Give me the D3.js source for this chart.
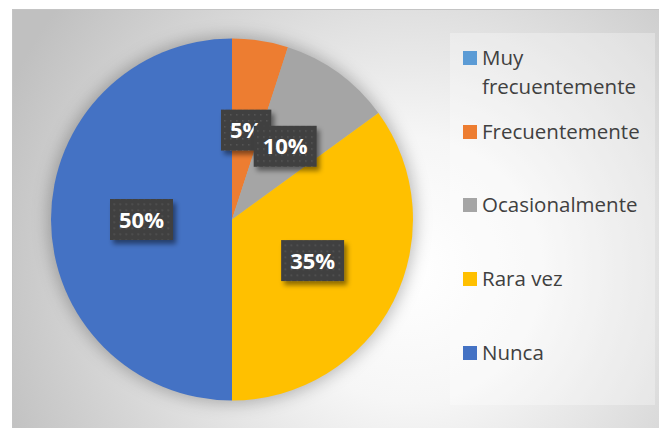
<!DOCTYPE html>
<html>
<head>
<meta charset="utf-8">
<script src="https://cdn.jsdelivr.net/npm/d3@7"></script>
<style>
  body { margin: 0; background: #fff; }
  svg { display: block; font-family: "Open Sans", sans-serif; }
</style>
</head>
<body>
<script>
// data
var categories = ["Muy frecuentemente", "Frecuentemente", "Ocasionalmente", "Rara vez", "Nunca"];
var values = [0, 5, 10, 35, 50];
var colors = ["#5B9BD5", "#ED7D31", "#A5A5A5", "#FFC000", "#4472C4"];

var width = 659, height = 428;
var cx = 232, cy = 219.5, radius = 181;

var svg = d3.select("body").append("svg")
  .attr("width", width)
  .attr("height", height);

var defs = svg.append("defs");

var bg = defs.append("radialGradient")
  .attr("id", "bg")
  .attr("gradientUnits", "userSpaceOnUse")
  .attr("cx", 410).attr("cy", 270).attr("r", 440);
bg.append("stop").attr("offset", "0").attr("stop-color", "#ffffff");
bg.append("stop").attr("offset", "0.3").attr("stop-color", "#f6f6f6");
bg.append("stop").attr("offset", "1").attr("stop-color", "#c0c0c0");

var blur = defs.append("filter").attr("id", "pieShadow")
  .attr("x", "-30%").attr("y", "-30%").attr("width", "160%").attr("height", "160%");
blur.append("feGaussianBlur").attr("stdDeviation", 8);

var drop = defs.append("filter").attr("id", "boxShadow")
  .attr("x", "-30%").attr("y", "-30%").attr("width", "160%").attr("height", "170%");
drop.append("feDropShadow")
  .attr("dx", 3).attr("dy", 4).attr("stdDeviation", 2.5)
  .attr("flood-color", "#000").attr("flood-opacity", 0.45);

var dots = defs.append("pattern").attr("id", "dots")
  .attr("patternUnits", "userSpaceOnUse")
  .attr("width", 6).attr("height", 6);
dots.append("rect").attr("width", 6).attr("height", 6).attr("fill", "#404040");
dots.append("rect").attr("x", 2).attr("y", 2).attr("width", 1.4).attr("height", 1.4).attr("fill", "#5c5c5c");

// chart area
svg.append("rect")
  .attr("x", 12.5).attr("y", 9.5)
  .attr("width", width).attr("height", height)
  .attr("fill", "url(#bg)")
  .attr("stroke", "#c4c4c4");

// legend box
var legendX = 450, legendY = 33;
svg.append("rect")
  .attr("x", legendX).attr("y", legendY)
  .attr("width", 205).attr("height", 372)
  .attr("fill", "#fff").attr("fill-opacity", 0.3);

// pie
var pie = d3.pie().sort(null).value(function(d) { return d; });
var arcs = pie(values);
var arc = d3.arc().innerRadius(0).outerRadius(radius);
var labelArc = d3.arc().innerRadius(radius * 0.5).outerRadius(radius * 0.5);

var g = svg.append("g").attr("transform", "translate(" + cx + "," + cy + ")");

g.append("circle")
  .attr("r", radius + 3)
  .attr("fill", "#000").attr("fill-opacity", 0.25)
  .attr("filter", "url(#pieShadow)");

g.selectAll("path.slice")
  .data(arcs)
  .enter().append("path")
  .attr("class", "slice")
  .attr("d", arc)
  .attr("fill", function(d, i) { return colors[i]; });

// data labels
var labels = g.selectAll("g.lbl")
  .data(arcs.filter(function(d) { return d.value > 0; }))
  .enter().append("g")
  .attr("class", "lbl")
  .attr("transform", function(d) { return "translate(" + labelArc.centroid(d) + ")"; });

labels.each(function(d) {
  var l = d3.select(this);
  var box = l.append("rect");
  var t = l.append("text")
    .attr("text-anchor", "middle")
    .attr("y", 8)
    .attr("fill", "#fff")
    .attr("font-weight", "bold")
    .attr("font-size", 22)
    .text(d.value + "%");
  var w = t.node().getComputedTextLength() + 18;
  box.attr("x", -w / 2).attr("y", -20.5)
    .attr("width", w).attr("height", 41)
    .attr("fill", "url(#dots)")
    .attr("filter", "url(#boxShadow)");
});

// legend
var rowTop = [51, 125, 198, 272, 346];
var legend = svg.append("g");

categories.forEach(function(c, i) {
  var row = legend.append("g").attr("transform", "translate(463," + rowTop[i] + ")");
  row.append("rect")
    .attr("width", 14).attr("height", 14)
    .attr("fill", colors[i]);
  var text = row.append("text")
    .attr("x", 19).attr("y", 13.5)
    .attr("font-size", 20.5)
    .attr("fill", "#404040");
  // wrap long labels like the original
  var words = c.split(" "), line = [];
  var tspan = text.append("tspan").attr("x", 19).attr("dy", 0);
  words.forEach(function(word) {
    line.push(word);
    tspan.text(line.join(" "));
    if (tspan.node().getComputedTextLength() > 172 && line.length > 1) {
      line.pop();
      tspan.text(line.join(" "));
      line = [word];
      tspan = text.append("tspan").attr("x", 19).attr("dy", 29.5).text(word);
    }
  });
});
</script>
</body>
</html>
